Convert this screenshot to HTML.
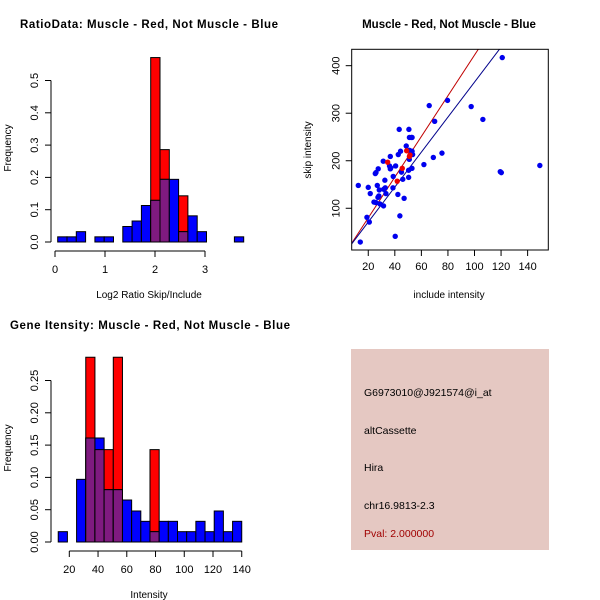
<!DOCTYPE html>
<html><head><meta charset="utf-8"><style>
body{margin:0;background:#fff}
svg{display:block;font-family:"Liberation Sans",sans-serif}
</style></head><body>
<svg id="s" width="600" height="600" viewBox="0 0 600 600"></svg>
<script>
// ---- Ratio histogram data
const ratioBinStart = 0.054, ratioBinWidth = 0.186;
const ratioBlue = [0.016,0.016,0.032,0,0.016,0.016,0,0.048,0.065,0.113,0.129,0.194,0.194,0.032,0.081,0.032,0,0,0,0.016];
const ratioRed  = [0,0,0,0,0,0,0,0,0,0,0.571,0.286,0,0.143,0,0,0,0,0,0];
const ratioXTicks = [0,1,2,3];
const ratioYTicks = [0.0,0.1,0.2,0.3,0.4,0.5];
// ---- Scatter data
const scatterBlueX = [120.9,79.7,65.9,97.5,106.3,70,43.3,50.6,51,52.5,53,48.6,44.3,51,53,42.6,53.4,75.5,36.6,31.3,69,50.9,61.9,36,37,36.6,40.6,27.5,52.9,50.4,25.8,25.3,45,38.8,50.4,32.5,46,12.5,26.8,20,38.6,32.8,31.6,28.3,33.3,21.5,42.3,28,27.3,47,24.3,25.8,28.8,31.5,43.8,19,20.8,40.3,14,149.2,119.4,120.2];
const scatterBlueY = [417,327,316,314,287,283,266,266,249,249,249,231,220,222,220,213,213,216,209,199,207,203,192,189,185,183,189,183,184,180,175,173,176,167,165,159,161,148,148,144,143,143,140,138.5,131,131,129,126,123,121,113,112,109,105,84,81,71,41,29,190,177,175];
const scatterRedX = [34.6,48.9,51.4,45.6,41.8,51];
const scatterRedY = [197,221,212,184,157,209];
const fitRed = [4.28,-5.7], fitBlue = [3.68,-2.6];
const scatterXTicks = [20,40,60,80,100,120,140];
const scatterYTicks = [100,200,300,400];
// ---- Intensity histogram data
const intBinStart = 12.3, intBinWidth = 6.385;
const intBlue = [0.016,0,0.097,0.161,0.161,0.081,0.081,0.065,0.048,0.032,0.016,0.032,0.032,0.016,0.016,0.032,0.016,0.048,0.016,0.032];
const intRed  = [0,0,0,0.286,0.143,0.143,0.286,0,0,0,0.143,0,0,0,0,0,0,0,0,0];
const intXTicks = [20,40,60,80,100,120,140];
const intYTicks = [0.00,0.05,0.10,0.15,0.20,0.25];

const NS="http://www.w3.org/2000/svg", S=document.getElementById('s');
function mk(tag,attrs,parent,txt){const e=document.createElementNS(NS,tag);for(const k in attrs)e.setAttribute(k,attrs[k]);if(txt!==undefined)e.textContent=txt;(parent||S).appendChild(e);return e;}

function hist(o){
  const g=mk('g',{});
  
  
  const sx=v=>o.x0+(v-o.xv0)*o.kx, sy=v=>o.y0-v*o.ky;
  for(let i=0;i<o.blue.length;i++){
    const l=sx(o.bs+i*o.bw), r=sx(o.bs+(i+1)*o.bw), b=o.blue[i], rd=o.red[i];
    if(rd>0){const e=mk('rect',{x:l,y:sy(rd),width:r-l,height:sy(0)-sy(rd),fill:'#ff0000',stroke:'#000','stroke-width':1},g);
      }
    if(b>0){const e=mk('rect',{x:l,y:sy(b),width:r-l,height:sy(0)-sy(b),fill:'#0000ff',stroke:'#000','stroke-width':1},g);
      }
    if(b>0&&rd>0){const m=Math.min(b,rd);const e=mk('rect',{x:l,y:sy(m),width:r-l,height:sy(0)-sy(m),fill:'#7f1a80',stroke:'#000','stroke-width':1},g);
      }
  }
  const ya=mk('g',{},g);
  mk('line',{x1:o.yax,x2:o.yax,y1:sy(o.yt[0]),y2:sy(o.yt[o.yt.length-1]),stroke:'#000'},ya);
  o.yt.forEach((t,i)=>{mk('line',{x1:o.yax-6,x2:o.yax,y1:sy(t),y2:sy(t),stroke:'#000'},ya);
    const y=sy(t),tx=mk('text',{x:o.yax-13,y:y,'font-size':11,'text-anchor':'middle',transform:`rotate(-90 ${o.yax-13} ${y})`},ya,t.toFixed(o.dec));
    });
  const xa=mk('g',{},g);
  mk('line',{x1:sx(o.xt[0]),x2:sx(o.xt[o.xt.length-1]),y1:o.xay,y2:o.xay,stroke:'#000'},xa);
  o.xt.forEach(t=>{mk('line',{x1:sx(t),x2:sx(t),y1:o.xay,y2:o.xay+6,stroke:'#000'},xa);
    const tx=mk('text',{x:sx(t),y:o.xay+22,'font-size':11,'text-anchor':'middle'},xa,String(t));
    });
  const xl=mk('text',{x:o.xlx,y:o.xay+47,'font-size':10,'text-anchor':'middle'},g,o.xlab);
  
  const yl=mk('text',{x:11,y:o.ylY,'font-size':10,'text-anchor':'middle',transform:`rotate(-90 11 ${o.ylY})`},g,'Frequency');
  
}

hist({name:'ratio-histogram',blue:ratioBlue,red:ratioRed,bs:ratioBinStart,bw:ratioBinWidth,x0:55,xv0:0,kx:50,y0:242,ky:323,
  yt:ratioYTicks,xt:ratioXTicks,dec:1,yax:51,xay:251,xlab:'Log2 Ratio Skip/Include',xlx:149,ylY:148});
hist({name:'intensity-histogram',blue:intBlue,red:intRed,bs:intBinStart,bw:intBinWidth,x0:69.3,xv0:20,kx:1.437,y0:542,ky:646,
  yt:intYTicks,xt:intXTicks,dec:2,yax:51,xay:551,xlab:'Intensity',xlx:149,ylY:448});

let t=mk('text',{x:149,y:28,'font-size':11.5,'font-weight':'bold','text-anchor':'middle','textLength':258},S,'RatioData: Muscle - Red, Not Muscle - Blue');

t=mk('text',{x:150,y:329,'font-size':11.5,'font-weight':'bold','text-anchor':'middle','textLength':280},S,'Gene Itensity: Muscle - Red, Not Muscle - Blue');


(function(){
  const g=mk('g',{});
  const L=351.7,R=548.3,T=49.3,B=250;
  const sx=v=>341.7+v*1.328, sy=v=>255.8-v*0.4753;
  mk('clipPath',{id:'cp'},g);document.getElementById('cp').appendChild(document.createElementNS(NS,'rect'));
  const cr=document.querySelector('#cp rect');cr.setAttribute('x',L);cr.setAttribute('y',T);cr.setAttribute('width',R-L);cr.setAttribute('height',B-T);
  const pg=mk('g',{'clip-path':'url(#cp)'},g);
  [[fitRed,'#c00000','red-fit-line'],[fitBlue,'#00008b','blue-fit-line']].forEach(([f,c,n])=>{
    const x1=0,x2=160;const l=mk('line',{x1:sx(x1),y1:sy(f[0]*x1+f[1]),x2:sx(x2),y2:sy(f[0]*x2+f[1]),stroke:c,'stroke-width':1},pg);
    });
  scatterBlueX.forEach((x,i)=>{const c=mk('circle',{cx:sx(x),cy:sy(scatterBlueY[i]),r:2.7,fill:'#0000ee'},pg);
    });
  scatterRedX.forEach((x,i)=>{const c=mk('circle',{cx:sx(x),cy:sy(scatterRedY[i]),r:2.7,fill:'#ee0000'},pg);
    });
  const box=mk('rect',{x:L,y:T,width:R-L,height:B-T,fill:'none',stroke:'#000'},g);
  
  scatterXTicks.forEach(v=>{mk('line',{x1:sx(v),x2:sx(v),y1:B,y2:B+6,stroke:'#000'},g);
    const e=mk('text',{x:sx(v),y:B+20,'font-size':11,'text-anchor':'middle'},g,String(v));
    });
  scatterYTicks.forEach(v=>{mk('line',{x1:L-6,x2:L,y1:sy(v),y2:sy(v),stroke:'#000'},g);
    const x=L-12,e=mk('text',{x:x,y:sy(v),'font-size':11,'text-anchor':'middle',transform:`rotate(-90 ${x} ${sy(v)})`},g,String(v));
    });
  let e=mk('text',{x:449,y:298,'font-size':10,'text-anchor':'middle'},g,'include intensity');
  
  e=mk('text',{x:311,y:150,'font-size':10,'text-anchor':'middle',transform:'rotate(-90 311 150)'},g,'skip intensity');
  
  e=mk('text',{x:449,y:28,'font-size':11.5,'font-weight':'bold','text-anchor':'middle'},g,'Muscle - Red, Not Muscle - Blue');
  
})();

(function(){
  const g=mk('g',{});
  mk('rect',{x:351,y:349,width:198,height:201,fill:'#e5c8c2'},g);
  const lines=[['G6973010@J921574@i_at',396,'#000','probe-id'],['altCassette',434,'#000','event-type'],['Hira',471,'#000','gene-name'],['chr16.9813-2.3',509,'#000','location'],['Pval: 2.000000',537,'#a00000','p-value']];
  lines.forEach(([s,y,c,n])=>{const e=mk('text',{x:364,y:y,'font-size':10.5,fill:c},g,s);
    });
})();
</script>
</body></html>
